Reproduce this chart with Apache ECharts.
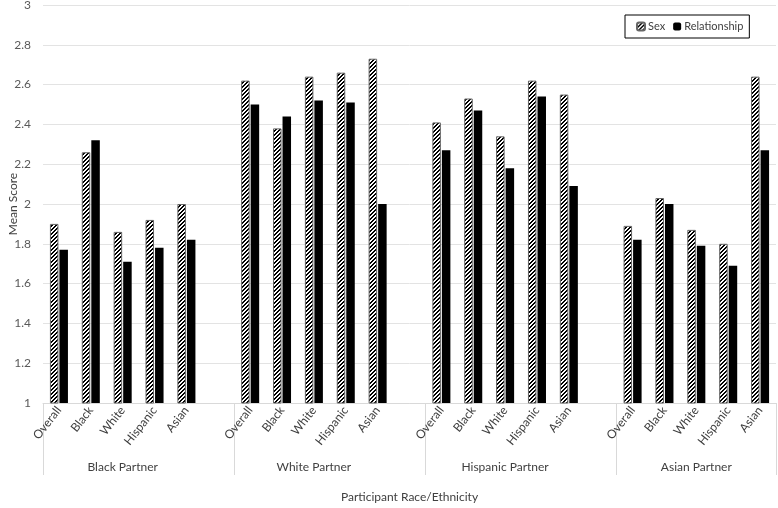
<!DOCTYPE html>
<html>
<head>
<meta charset="utf-8">
<script src="https://cdn.jsdelivr.net/npm/echarts@6/dist/echarts.min.js"></script>
<style>
  html, body { margin: 0; padding: 0; background: #fff; }
  #chart { width: 778px; height: 508px; }
</style>
</head>
<body>
<div id="chart"></div>
<script>
// ==================== DATA ====================
const groups = ['Black Partner', 'White Partner', 'Hispanic Partner', 'Asian Partner'];
const races = ['Overall', 'Black', 'White', 'Hispanic', 'Asian'];

const sexBlack = [1.90, 2.26, 1.86, 1.92, 2.00];
const sexWhite = [2.62, 2.38, 2.64, 2.66, 2.73];
const sexHispanic = [2.41, 2.53, 2.34, 2.62, 2.55];
const sexAsian = [1.89, 2.03, 1.87, 1.80, 2.64];

const relBlack = [1.77, 2.32, 1.71, 1.78, 1.82];
const relWhite = [2.50, 2.44, 2.52, 2.51, 2.00];
const relHispanic = [2.27, 2.47, 2.18, 2.54, 2.09];
const relAsian = [1.82, 2.00, 1.79, 1.69, 2.27];

const yTicks = { min: 1, max: 3, step: 0.2 };

// one blank slot between partner groups (Excel style)
function flatten(parts) {
  const out = [];
  parts.forEach((p, i) => {
    out.push(...p);
    if (i < parts.length - 1) out.push(null);
  });
  return out;
}
const cats = flatten(groups.map(() => races)).map(c => c === null ? '' : c);
const sexData = flatten([sexBlack, sexWhite, sexHispanic, sexAsian]);
const relData = flatten([relBlack, relWhite, relHispanic, relAsian]);

// group boundaries / centres in slot units
const bounds = [0], centres = [];
let pos = 0;
groups.forEach((g, i) => {
  const n = races.length + (i < groups.length - 1 ? 1 : 0);
  centres.push(pos + races.length / 2);
  pos += n;
  bounds.push(pos);
});

// crisp diagonal hatch fill, 4px tile
function hatch() {
  const c = document.createElement('canvas');
  c.width = c.height = 4;
  const ctx = c.getContext('2d');
  const img = ctx.createImageData(4, 4);
  for (let y = 0; y < 4; y++) {
    for (let x = 0; x < 4; x++) {
      const dark = ((x + y) % 4) < 2;
      const i = (y * 4 + x) * 4;
      const v = dark ? 0 : 255;
      img.data[i] = img.data[i + 1] = img.data[i + 2] = v;
      img.data[i + 3] = 255;
    }
  }
  ctx.putImageData(img, 0, 0);
  return c;
}

const FONT = 'Lato';
const chart = echarts.init(document.getElementById('chart'));
chart.setOption({
  backgroundColor: '#fff',
  animation: false,
  textStyle: { fontFamily: FONT },
  grid: { left: 43, right: 2, top: 5, bottom: 105, outerBoundsMode: 'none', containLabel: false },
  legend: {
    data: ['Sex', 'Relationship'],
    left: 625, top: 15,
    borderColor: '#000', borderWidth: 1,
    padding: [6, 6, 6, 11],
    itemGap: 8, itemWidth: 8, itemHeight: 8,
    textStyle: { fontSize: 11, color: '#404040', fontFamily: FONT, padding: [0, 0, 0, -2] }
  },
  xAxis: [
    {
      type: 'category', data: cats, position: 'bottom',
      axisLine: { lineStyle: { color: '#d9d9d9' } },
      axisTick: { show: false },
      axisLabel: { interval: 0, rotate: 52, fontSize: 12, color: '#404040', margin: 5 }
    },
    {
      type: 'value', min: 0, max: pos, position: 'bottom',
      splitLine: { show: false },
      axisLine: { show: false },
      axisTick: { show: true, customValues: bounds, length: 72, lineStyle: { color: '#d9d9d9' } },
      axisLabel: {
        customValues: centres, margin: 58, fontSize: 12, color: '#404040',
        formatter: v => groups[centres.indexOf(v)] || ''
      },
      name: 'Participant Race/Ethnicity', nameLocation: 'middle', nameGap: 88,
      nameMoveOverlap: false,
      nameTextStyle: { fontSize: 12, color: '#404040', fontFamily: FONT }
    }
  ],
  yAxis: {
    type: 'value', min: yTicks.min, max: yTicks.max, interval: yTicks.step,
    name: 'Mean Score', nameLocation: 'middle', nameGap: 24,
    nameMoveOverlap: false,
    nameTextStyle: { fontSize: 12, color: '#404040', fontFamily: FONT },
    axisLine: { show: false }, axisTick: { show: false },
    axisLabel: { fontSize: 12, color: '#595959', margin: 12 },
    splitLine: { lineStyle: { color: '#e3e3e3' } }
  },
  series: [
    {
      name: 'Sex', type: 'bar', data: sexData, barWidth: 8.5, barGap: '12%',
      itemStyle: { color: { image: hatch(), repeat: 'repeat' }, borderColor: '#666', borderWidth: 1 }
    },
    {
      name: 'Relationship', type: 'bar', data: relData, barWidth: 8.5,
      itemStyle: { color: '#000' }
    }
  ]
});
</script>
</body>
</html>
